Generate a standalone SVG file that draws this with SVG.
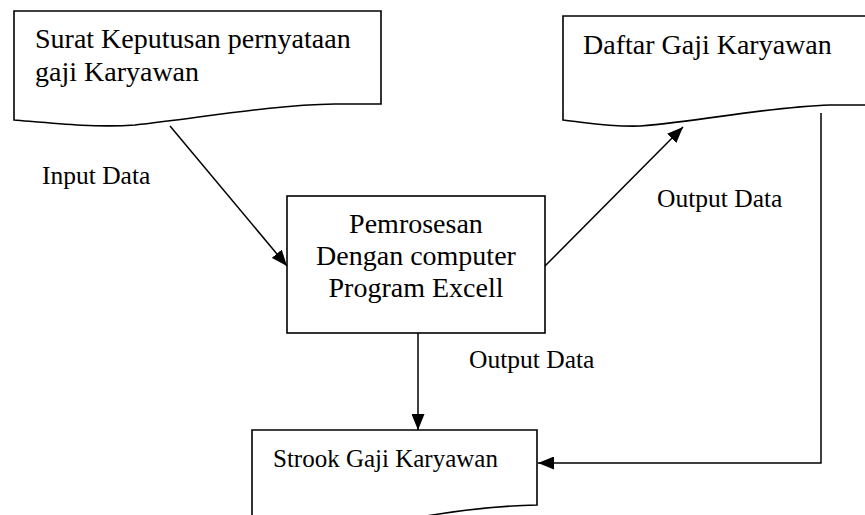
<svg xmlns="http://www.w3.org/2000/svg" width="865" height="515" viewBox="0 0 865 515">
  <style>
    .shape { fill: #ffffff; stroke: #000000; stroke-width: 1.6; }
    .edge { fill: none; stroke: #000000; stroke-width: 1.5; }
    text { font-family: "Liberation Serif", "Times New Roman", serif; fill: #000000; }
    .big { font-size: 28px; }
    .mid { font-size: 25px; }
    .label { font-size: 25.5px; }
  </style>
  <defs>
    <marker id="arrow" markerUnits="userSpaceOnUse" markerWidth="17" markerHeight="13" refX="16" refY="6.5" orient="auto">
      <path d="M0,0 L16,6.5 L0,13 Z" fill="#000000"/>
    </marker>
  </defs>

  <rect width="865" height="515" fill="#ffffff"/>

  <!-- document: decree on salary statement -->
  <g id="doc-surat">
    <path class="shape" d="M14,11 H381 V104 L335,104 C270,105 200,118 135,125 C95,128 50,123 14,120 Z"/>
    <text class="big" x="35" y="48">Surat Keputusan pernyataan</text>
    <text class="big" x="35" y="81">gaji Karyawan</text>
  </g>

  <!-- document: employee payroll list -->
  <g id="doc-daftar">
    <path class="shape" d="M563,16 H870 V105 L830,105 C765,107 705,121 640,126 C610,127 590,123 563,120 Z"/>
    <text class="big" x="583" y="54">Daftar Gaji Karyawan</text>
  </g>

  <!-- process box -->
  <g id="process">
    <rect class="shape" x="287" y="196" width="258" height="137"/>
    <text class="big" x="416" y="233" text-anchor="middle">Pemrosesan</text>
    <text class="big" x="416" y="265" text-anchor="middle">Dengan computer</text>
    <text class="big" x="416" y="297" text-anchor="middle">Program Excell</text>
  </g>

  <!-- document: salary slip -->
  <g id="doc-strook">
    <path class="shape" d="M252,520 V430 H537 V505 C495,506 455,510 405,520"/>
    <text class="mid" x="273" y="467">Strook Gaji Karyawan</text>
  </g>

  <!-- connectors -->
  <g id="connectors">
    <line class="edge" x1="170" y1="126" x2="287" y2="266" marker-end="url(#arrow)"/>
    <line class="edge" x1="545" y1="266" x2="683" y2="127" marker-end="url(#arrow)"/>
    <line class="edge" x1="418" y1="333" x2="418" y2="430" marker-end="url(#arrow)"/>
    <polyline class="edge" points="821,113 821,463 538,463" marker-end="url(#arrow)"/>
  </g>

  <!-- connector labels -->
  <g id="labels">
    <text class="label" x="42" y="184">Input Data</text>
    <text class="label" x="657" y="207">Output Data</text>
    <text class="label" x="469" y="368">Output Data</text>
  </g>
</svg>
